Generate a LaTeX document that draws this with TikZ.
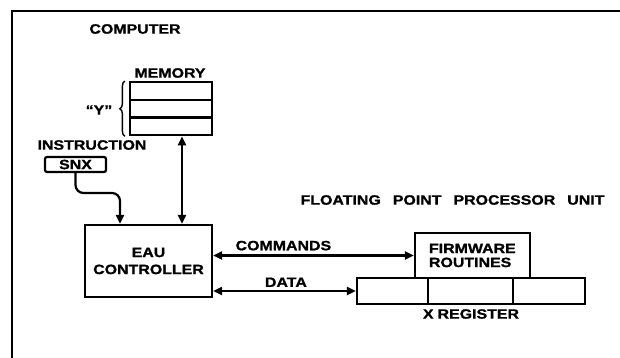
\documentclass[tikz,border=0pt]{standalone}
\usepackage{fontspec}
\newfontfamily\lblfont[FakeStretch=1.18,FakeBold=1.2,Ligatures=TeX]{Liberation Sans}
\usetikzlibrary{arrows.meta,decorations.pathreplacing}
\begin{document}
\begin{tikzpicture}[x=1pt,y=-1pt,
  >={Triangle[length=9pt,width=8pt]},
  box/.style={draw, line width=2.2pt, inner sep=0pt},
  lbl/.style={font=\lblfont\bfseries\fontsize{13.5}{15}\selectfont, inner sep=0pt},
  link/.style={line width=2.2pt}
]
\useasboundingbox (0,0) rectangle (620,358);
\draw[line width=2.4pt] (620,11) -- (12,11) -- (12,358);

% computer side
\node[lbl] (comp) at (135,29) {COMPUTER};
\node[lbl] (memlbl) at (170,73) {MEMORY};
\node[box, minimum width=82pt, minimum height=17.7pt] (m1) at (171,91) {};
\node[box, minimum width=82pt, minimum height=17.7pt] (m2) at (171,108.7) {};
\node[box, minimum width=82pt, minimum height=17.7pt] (m3) at (171,126.4) {};
\draw[line width=1.4pt, decorate, decoration={brace, amplitude=5pt}]
  ([xshift=-4pt]m3.south west) -- ([xshift=-4pt]m1.north west);
\node[lbl] (yname) at (99,110) {“Y”};
\node[lbl] (instr) at (92,145) {INSTRUCTION};
\node[box, rounded corners=2pt, minimum width=61pt, minimum height=15pt, lbl] (snx) at (75.5,164.5) {SNX};
\node[box, lbl, minimum width=127pt, minimum height=72pt, align=center] (eau) at (148.5,261) {EAU\\[2pt]CONTROLLER};

% processor side
\node[lbl] (fpu) at (452.5,200) {FLOATING\hspace{12pt}POINT\hspace{12pt}PROCESSOR\hspace{12pt}UNIT};
\node[box, lbl, minimum height=45pt, text width=87pt, inner xsep=14pt, align=left] (firm) at (472.5,255.5) {FIRMWARE\\[-1pt]ROUTINES};
\node[box, minimum width=71pt, minimum height=26pt] (x1) at (392.5,291) {};
\node[box, minimum width=85pt, minimum height=26pt] (x2) at (470.5,291) {};
\node[box, minimum width=72pt, minimum height=26pt] (x3) at (549,291) {};
\node[lbl] (xname) at (471,314) {X\hspace{4pt}REGISTER};

% connections
\coordinate (bend) at (120,193);
\coordinate (mx) at (182,0);
\draw[link, ->, rounded corners=8pt] (snx.south) |- (bend) -- (bend |- eau.north);
\draw[link, <->] (m3.south -| mx) -- (eau.north -| mx);
\draw[link, <->] (firm.west -| eau.east) -- node[lbl, pos=0.35, above=4pt] (cmd) {COMMANDS} (firm.west);
\draw[link, <->] (x1.west -| eau.east) -- node[lbl, pos=0.51, above=3pt] (data) {DATA} (x1.west);
\end{tikzpicture}
\end{document}
